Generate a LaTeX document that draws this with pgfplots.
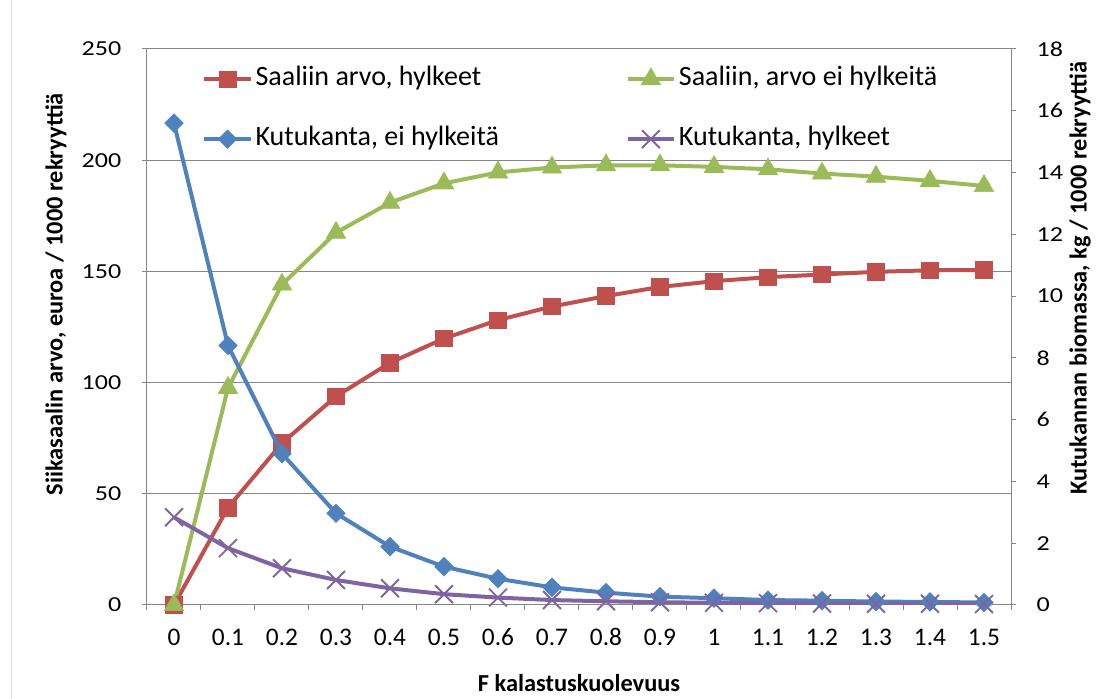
\documentclass[border=0pt]{standalone}
\usepackage{fontspec}
\setmainfont{Carlito}
\newfontfamily\widefont{Carlito}[FakeStretch=1.22]
\usepackage{pgfplots}
\pgfplotsset{compat=1.18}
\definecolor{cred}{HTML}{C0504D}
\definecolor{cgreen}{HTML}{9BBB59}
\definecolor{cblue}{HTML}{4F81BD}
\definecolor{cpurple}{HTML}{8064A2}
\definecolor{gridgray}{HTML}{868686}
\begin{document}
\begin{tikzpicture}
\path[use as bounding box] (-110.25pt,-70.5pt) rectangle (715.5pt,453.75pt);
\draw[gray!25, line width=0.75pt] (-101.5pt,-70.5pt) -- (-101.5pt,453.75pt);
\pgfplotsset{
  common/.style={
    at={(0,0)}, anchor=south west,
    scale only axis, width=648pt, height=417pt,
    xmin=-0.05, xmax=1.55,
    /pgf/number format/assume math mode=true,
    tick align=outside, major tick length=3.75pt,
    tick style={gridgray, line width=0.75pt},
    axis line style={gridgray, line width=0.75pt},
    yticklabel style={font=\widefont\fontsize{16}{18}\selectfont, text=black},
    label style={font=\bfseries\fontsize{18.3}{22}\selectfont},
  },
  legend image code/.code={\draw[mark repeat=2,mark phase=2,#1] plot coordinates {(0pt,0pt) (17.5pt,0pt) (35pt,0pt)};},
}
\begin{axis}[common,
  ymin=0, ymax=250, ytick={0,50,100,150,200,250},
  ymajorgrids, grid style={gridgray, line width=0.75pt},
  axis y line*=left, axis x line*=bottom,
  xtick={-0.05,0.05,0.15,0.25,0.35,0.45,0.55,0.65,0.75,0.85,0.95,1.05,1.15,1.25,1.35,1.45,1.55},
  xticklabels={},
  extra x ticks={0,0.1,0.2,0.3,0.4,0.5,0.6,0.7,0.8,0.9,1,1.1,1.2,1.3,1.4,1.5},
  extra x tick labels={0,0.1,0.2,0.3,0.4,0.5,0.6,0.7,0.8,0.9,1,1.1,1.2,1.3,1.4,1.5},
  extra x tick style={major tick length=0pt, grid=none},
  xticklabel style={font=\fontsize{19}{22}\selectfont, anchor=center, yshift=-24pt},
  yticklabel style={anchor=east, xshift=-12pt},
  xlabel={F kalastuskuolevuus},
  xlabel style={at={(axis description cs:0.5,-0.1403)}, anchor=center},
  ylabel={Siikasaalin arvo, euroa / 1000 rekryyttiä},
  ylabel style={at={(axis description cs:-0.1053,0.559)}, anchor=center},
]
\addplot[cred, line width=3pt, mark=square*, mark size=6.2pt, mark options={solid, fill=cred, line width=0.5pt}] coordinates {
(0,0) (0.1,43.8) (0.2,72.8) (0.3,93.8) (0.4,108.9) (0.5,119.8) (0.6,128.1) (0.7,134.2) (0.8,138.9) (0.9,143.0) (1,145.6) (1.1,147.4) (1.2,148.6) (1.3,149.8) (1.4,150.5) (1.5,150.6)};
\addplot[cgreen, line width=3pt, mark=triangle*, mark size=8.4pt, mark options={solid, fill=cgreen, line width=0.5pt}] coordinates {
(0,0) (0.1,97.6) (0.2,144.1) (0.3,167.4) (0.4,180.9) (0.5,189.6) (0.6,194.5) (0.7,196.7) (0.8,197.7) (0.9,197.7) (1,197.0) (1.1,195.9) (1.2,194.0) (1.3,192.6) (1.4,190.7) (1.5,188.4)};
\end{axis}
\begin{axis}[common,
  ymin=0, ymax=18, ytick={0,2,4,6,8,10,12,14,16,18},
  axis y line*=right, axis x line=none,
  yticklabel style={anchor=west, xshift=12pt},
  ylabel={Kutukannan biomassa, kg / 1000 rekryyttiä},
  ylabel style={at={(axis description cs:1.0799,0.588)}, anchor=center},
  legend columns=2,
  legend cell align=left,
  legend style={draw=none, fill=none, at={(axis description cs:0.059,0.975)}, anchor=north west,
    font=\fontsize{21}{25}\selectfont,
    nodes={inner sep=0pt, text height=15pt, text depth=5pt},
    row sep=25pt,
    /tikz/every odd column/.append style={column sep=2pt}},
]
\addlegendimage{cred, line width=3pt, mark=square*, mark size=6.2pt, mark options={solid, fill=cred, line width=0.5pt}}
\addlegendentry{\makebox[277.5pt][l]{Saaliin arvo, hylkeet}}
\addlegendimage{cgreen, line width=3pt, mark=triangle*, mark size=8.4pt, mark options={solid, fill=cgreen, line width=0.5pt}}
\addlegendentry{Saaliin, arvo ei hylkeitä}
\addplot[cblue, line width=3pt, mark=square*, mark size=4.9pt, mark options={solid, fill=cblue, rotate=45, line width=0.5pt}] coordinates {
(0,15.60) (0.1,8.40) (0.2,4.90) (0.3,2.97) (0.4,1.89) (0.5,1.24) (0.6,0.85) (0.7,0.57) (0.8,0.40) (0.9,0.27) (1,0.22) (1.1,0.16) (1.2,0.14) (1.3,0.11) (1.4,0.10) (1.5,0.08)};
\addlegendentry{\makebox[277.5pt][l]{Kutukanta, ei hylkeitä}}
\addplot[cpurple, line width=3pt, mark=x, mark size=9.5pt, mark options={solid, line width=1.4pt}] coordinates {
(0,2.84) (0.1,1.84) (0.2,1.19) (0.3,0.81) (0.4,0.54) (0.5,0.35) (0.6,0.24) (0.7,0.16) (0.8,0.12) (0.9,0.09) (1,0.07) (1.1,0.06) (1.2,0.05) (1.3,0.04) (1.4,0.04) (1.5,0.03)};
\addlegendentry{Kutukanta, hylkeet}
\end{axis}
\end{tikzpicture}
\end{document}
